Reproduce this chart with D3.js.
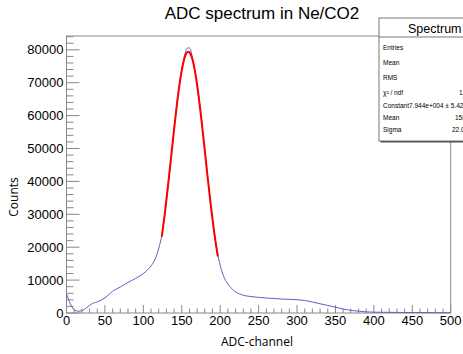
<!DOCTYPE html>
<html>
<head>
<meta charset="utf-8">
<script src="https://cdn.jsdelivr.net/npm/d3@7"></script>
<style>
  body { margin: 0; background: #fff; }
  svg { display: block; }
  .tick-label { font-family: "Liberation Sans", Arial, sans-serif; font-size: 13px; fill: #000; }
  .axis-title { font-family: "Open Sans", sans-serif; font-size: 12px; fill: #000; }
  .stats { font-family: "Liberation Sans", Arial, sans-serif; font-size: 6.5px; fill: #000; }
</style>
</head>
<body>
<div id="chart"></div>
<script>
// ADC spectrum (channel, counts)
const channels = [0, 2, 5, 8, 11, 15, 20, 25, 30, 35, 40, 45, 50, 55, 60, 65, 70, 75, 80, 85,
    90, 95, 100, 105, 110, 115, 118, 121, 124, 128, 132, 136, 140, 144, 148, 152, 155, 157, 159,
    161, 164, 168, 172, 176, 180, 184, 188, 192, 196, 200, 204, 208, 212, 216, 220, 225, 230,
    240, 250, 260, 270, 280, 290, 300, 310, 320, 330, 340, 350, 360, 370, 380, 390, 400, 420,
    440, 460, 480, 500];
const counts = [5800, 4500, 2800, 1500, 800, 550, 700, 1400, 2300, 3000, 3400, 3900, 4600, 5600,
    6600, 7300, 7900, 8600, 9300, 9900, 10500, 11200, 12000, 13000, 14300, 16200, 18000, 20500,
    23500, 30000, 38000, 47000, 56000, 64500, 71500, 76500, 79500, 80500, 80600, 80300, 77500,
    72500, 66000, 58000, 49500, 40800, 32500, 25000, 18800, 14500, 11500, 9500, 8200, 7200, 6400,
    5800, 5400, 5000, 4750, 4550, 4400, 4250, 4150, 4050, 3800, 3350, 2800, 2300, 1750, 1200, 800,
    550, 350, 250, 200, 150, 120, 100, 80];

// gaussian fit curve
const fitChannels = [124, 128, 132, 136, 140, 144, 148, 152, 156, 158.5, 160, 164, 168, 172, 176,
    180, 184, 188, 192, 196, 197];
const fitCounts = [23230, 30390, 38460, 47080, 55780, 63930, 70890, 76050, 78930, 79440, 79260,
    76990, 72370, 65810, 57900, 49250, 40580, 32330, 24920, 18580, 17180];

// stats box rows
const statNames = ["Entries", "Mean", "RMS", "\u03c7\u00b2 / ndf", "Constant", "Mean", "Sigma"];
const statValues = ["", "", "", "1.", "7.944e+004 \u00b1 5.42", "158.", "22.01"];

const xTicks = [0, 50, 100, 150, 200, 250, 300, 350, 400, 450, 500];
const yTicks = [0, 10000, 20000, 30000, 40000, 50000, 60000, 70000, 80000];

const width = 463, height = 354;
const frame = {left: 66.5, right: 450.7, top: 36, bottom: 313};

const svg = d3.select("#chart").append("svg")
    .attr("width", width)
    .attr("height", height);

const x = d3.scaleLinear().domain([0, 500]).range([frame.left, frame.right]);
const y = d3.scaleLinear().domain([0, 84200]).range([frame.bottom, frame.top]);

// title
svg.append("text")
    .attr("x", 262)
    .attr("y", 19)
    .attr("text-anchor", "middle")
    .style("font-family", "Liberation Sans, Arial, sans-serif")
    .style("font-size", "17px")
    .text("ADC spectrum in Ne/CO2");

// frame
svg.append("rect")
    .attr("x", frame.left).attr("y", frame.top)
    .attr("width", frame.right - frame.left)
    .attr("height", frame.bottom - frame.top)
    .attr("fill", "none")
    .attr("stroke", "#888")
    .attr("stroke-width", 1);

// x ticks (major 50, minor 10), pointing into the frame
const gx = svg.append("g").attr("stroke", "#888");
d3.range(0, 501, 10).forEach(v => {
    const major = v % 50 === 0;
    gx.append("line")
        .attr("x1", x(v)).attr("x2", x(v))
        .attr("y1", frame.bottom).attr("y2", frame.bottom - (major ? 8 : 4.5));
});
svg.selectAll(".xlab")
    .data(xTicks)
    .enter()
    .append("text")
        .attr("class", "tick-label")
        .attr("x", d => x(d))
        .attr("y", frame.bottom + 12)
        .attr("text-anchor", "middle")
        .text(d => d);

// y ticks (major 10000, minor 2000)
const gy = svg.append("g").attr("stroke", "#888");
d3.range(0, 84001, 2000).forEach(v => {
    const major = v % 10000 === 0;
    gy.append("line")
        .attr("x1", frame.left).attr("x2", frame.left + (major ? 13 : 7))
        .attr("y1", y(v)).attr("y2", y(v));
});
svg.selectAll(".ylab")
    .data(yTicks)
    .enter()
    .append("text")
        .attr("class", "tick-label")
        .attr("x", frame.left - 3)
        .attr("y", d => y(d) + 4.5)
        .attr("text-anchor", "end")
        .text(d => d);

// axis titles
svg.append("text")
    .attr("class", "axis-title")
    .attr("x", 257)
    .attr("y", 346)
    .attr("text-anchor", "middle")
    .text("ADC-channel");

svg.append("text")
    .attr("class", "axis-title")
    .attr("transform", "translate(18,197) rotate(-90)")
    .attr("text-anchor", "middle")
    .text("Counts");

// histogram line
const spectrum = channels.map((c, i) => ({c: c, n: counts[i]}));
svg.append("path")
    .datum(spectrum)
    .attr("fill", "none")
    .attr("stroke", "#6060c4")
    .attr("stroke-width", 1)
    .attr("d", d3.line().x(d => x(d.c)).y(d => y(d.n)).curve(d3.curveMonotoneX));

// fit line
const fit = fitChannels.map((c, i) => ({c: c, n: fitCounts[i]}));
svg.append("path")
    .datum(fit)
    .attr("fill", "none")
    .attr("stroke", "#ff0000")
    .attr("stroke-width", 2)
    .attr("d", d3.line().x(d => x(d.c)).y(d => y(d.n)).curve(d3.curveMonotoneX));

// stats box
const box = {x: 379, y: 18, w: 115, h: 123, head: 19};
svg.append("rect")
    .attr("x", box.x + 1.5).attr("y", box.y + 1.5)
    .attr("width", box.w).attr("height", box.h)
    .attr("fill", "#555");
svg.append("rect")
    .attr("x", box.x).attr("y", box.y)
    .attr("width", box.w).attr("height", box.h)
    .attr("fill", "#fff")
    .attr("stroke", "#555")
    .attr("stroke-width", 0.8);
svg.append("line")
    .attr("x1", box.x).attr("x2", box.x + box.w)
    .attr("y1", box.y + box.head).attr("y2", box.y + box.head)
    .attr("stroke", "#555").attr("stroke-width", 0.8);
svg.append("text")
    .attr("x", 408)
    .attr("y", box.y + 15)
    .style("font-family", "Liberation Sans, Arial, sans-serif")
    .style("font-size", "12.5px")
    .text("Spectrum");

const rowY = [47, 62, 77, 92, 105, 117, 129];
statNames.forEach((s, i) => {
    const t = svg.append("text")
        .attr("class", "stats")
        .attr("x", 383)
        .attr("y", rowY[i] + 2.5);
    if (s === "Constant") {
        t.text("Constant" + statValues[i]);
    } else {
        t.text(s);
    }
});
const valueX = [0, 0, 0, 459, 0, 455, 452];
statValues.forEach((v, i) => {
    if (v === "" || statNames[i] === "Constant") return;
    svg.append("text")
        .attr("class", "stats")
        .attr("x", valueX[i])
        .attr("y", rowY[i] + 2.5)
        .text(v);
});
</script>
</body>
</html>
